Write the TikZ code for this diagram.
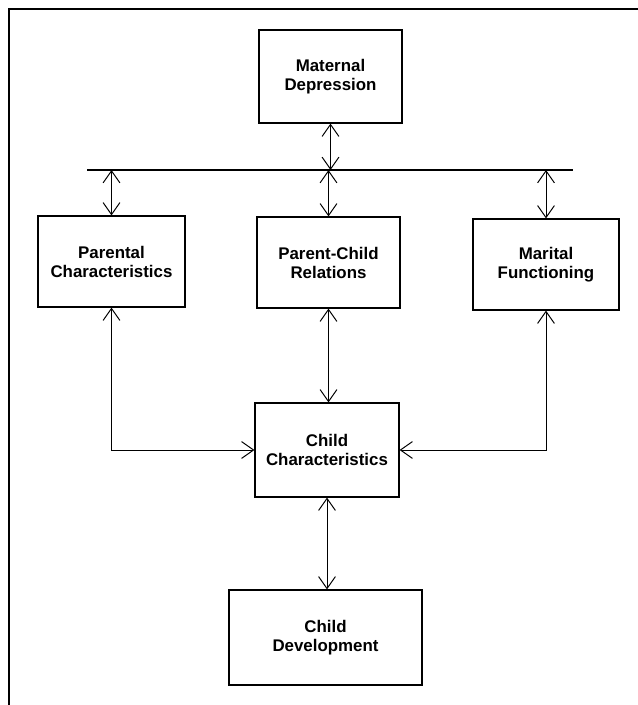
\documentclass[tikz,border=0pt]{standalone}
\usepackage{fontspec}
\setmainfont{Liberation Sans}
\usetikzlibrary{arrows.meta}
\tikzset{
  factor/.style={draw, line width=0.8pt, align=center, inner sep=0pt,
    font=\bfseries\fontsize{12}{13.5}\selectfont},
  link/.style={{Straight Barb[length=3mm,width=4.2mm]}-{Straight Barb[length=3mm,width=4.2mm]},
    line width=0.7pt}
}
\begin{document}
\begin{tikzpicture}[x=0.025cm, y=-0.025cm]
  \useasboundingbox (0,0) rectangle (638,705);
  \draw[line width=0.8pt] (638,9) -- (9,9) -- (9,705);
  \node[name=md, factor, minimum width=3.575cm, minimum height=2.325cm] at (330.5,76.5)
    {Maternal\\Depression};
  \node[name=pc, factor, minimum width=3.675cm, minimum height=2.275cm] at (111.5,261.5)
    {Parental\\Characteristics};
  \node[name=pcr, factor, minimum width=3.575cm, minimum height=2.275cm] at (328.5,262.5)
    {Parent-Child\\Relations};
  \node[name=mf, factor, minimum width=3.65cm, minimum height=2.275cm] at (546,264.5)
    {Marital\\Functioning};
  \node[name=cc, factor, minimum width=3.6cm, minimum height=2.35cm] at (327,450)
    {Child\\Characteristics};
  \node[name=cd, factor, minimum width=4.825cm, minimum height=2.375cm] at (325.5,637.5)
    {Child\\Development};
  \coordinate (barL) at (87,170);
  \coordinate (barR) at (573,170);
  \draw[line width=1.4pt] (barL) -- (barR);
  \draw[link] (md) -- (md |- barL);
  \foreach \n in {pc, pcr, mf}
    \draw[link] (\n |- barL) -- (\n);
  \draw[link] (pc) |- (cc);
  \draw[link] (mf) |- (cc);
  \draw[link] (pcr) -- (pcr |- cc.north);
  \draw[link] (cc) -- (cc |- cd.north);
\end{tikzpicture}
\end{document}
